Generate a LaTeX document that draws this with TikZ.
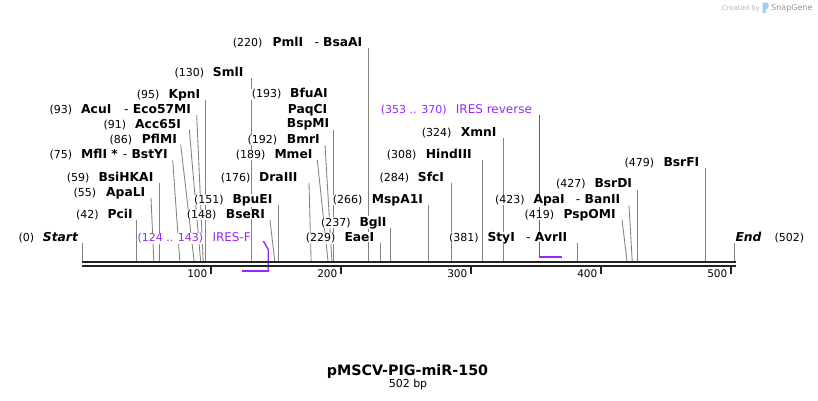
\documentclass[tikz,border=0pt]{standalone}
\usepackage{fontspec}
\setmainfont{DejaVu Sans}
\definecolor{ires}{RGB}{150,40,245}
\definecolor{barc}{RGB}{34,34,34}
\definecolor{cutc}{RGB}{130,130,130}
\definecolor{sgblue}{RGB}{160,205,240}
\newcommand\cutv[3]{%
  \coordinate (t#1) at ({82.3+1.3*#3},#2);
  \coordinate (s#1) at ({82.3+1.3*#3},261);
  \draw[cutl] (t#1) -- (s#1);}
\newcommand\cuts[4]{%
  \coordinate (t#1) at (#2,#3);
  \coordinate (s#1) at ({82.3+1.3*#4},261);
  \draw[cutl] (t#1) -- (s#1);}
\newcommand\lab[6]{%
  \node[num] (n#1) at (#2-0.5,#6) {#3};
  \node[nm] (m#1) at (#4-0.5,#6) {#5};}
\newcommand\labb[3]{%
  \node[nm] (m#1b) at (#2-0.5,#3) {{\mdseries -} #1};}
\begin{document}
\begin{tikzpicture}[x=1pt,y=-1pt,
  num/.style={font=\fontsize{11}{13}\selectfont, anchor=base west, inner sep=0.5pt, fill=white},
  nm/.style={font=\fontsize{12.3}{14}\selectfont\bfseries, anchor=base west, inner sep=0.5pt, fill=white},
  fnum/.style={num, text=ires},
  fname/.style={font=\fontsize{12}{14}\selectfont, anchor=base west, inner sep=0.5pt, fill=white, text=ires},
  cutl/.style={draw=cutc, line width=0.85pt},
  featv/.style={draw=ires, line width=1.4pt},
  feath/.style={draw=ires, line width=2pt},
  tick/.style={draw=barc, line width=2pt},
  ticklab/.style={font=\fontsize{10.5}{12}\selectfont, anchor=base east, inner sep=0pt}]
\useasboundingbox (0,0) rectangle (818,400);
\fill[white] (0,0) rectangle (818,400);

% ---- cut-site lines ----
\cutv{PmlI}{48}{220}
\cutv{SmlI}{78}{130}
\cutv{KpnI}{100}{95}
\cutv{BspMI}{129.5}{193}
\cuts{Eco}{196.7}{115}{93}
\cuts{Acc}{189.3}{129.5}{91}
\cuts{Pfl}{180.7}{144.5}{86}
\cuts{Bst}{172.7}{160}{75}
\cuts{Bmr}{325}{145}{192}
\cuts{Mme}{317.3}{160}{189}
\cutv{Xmn}{137.7}{324}
\cutv{Hind}{160}{308}
\cutv{Bsi}{182.7}{59}
\cuts{Dra}{309}{183}{176}
\cutv{Sfc}{182.7}{284}
\cutv{BsrF}{168.3}{479}
\cutv{BsrD}{189.5}{427}
\cuts{ApaL}{151}{197.7}{55}
\cutv{Bpu}{205}{151}
\cutv{Msp}{205}{266}
\cuts{Ban}{629}{205.5}{423}
\cutv{Pci}{220}{42}
\cuts{BseR}{270}{220}{148}
\cuts{PspO}{622}{219.5}{419}
\cutv{Bgl}{228}{237}
\cutv{Start}{243}{0}
\cutv{Eae}{242.5}{229}
\cutv{Avr}{243}{381}
\cutv{End}{243}{502}

% ---- features ----
\coordinate (irT) at (539.5,115);
\coordinate (irB) at (539.5,257.3);
\coordinate (irE) at (562,257.3);
\draw[featv] (irT) -- (irB);
\draw[feath] ([xshift=-0.7pt]irB) -- (irE);
\coordinate (ifS) at (242,270.7);
\coordinate (ifE) at (268.2,270.7);
\coordinate (ifK) at (268.2,249.3);
\coordinate (ifT) at (263.3,241);
\draw[feath] (ifS) -- ([xshift=0.7pt]ifE);
\draw[featv] (ifE) -- (ifK) -- (ifT);

% ---- sequence bar ----
\coordinate (b0) at (82,262);
\coordinate (b1) at (735.5,262);
\coordinate (c0) at (82,266);
\coordinate (c1) at (735.5,266);
\draw[barc, line width=2.7pt] (b0) -- (b1);
\draw[barc, line width=2.7pt] (c0) -- (c1);
\foreach \t/\xx in {100/211,200/341,300/471,400/601,500/731}{
  \coordinate (tk\t) at (\xx,266);
  \coordinate (tl\t) at (\xx,274);
  \draw[tick] (tk\t) -- (tl\t);
  \node[ticklab] (tn\t) at (\xx-3.5,277.3) {\t};
}

% ---- labels ----
\lab{PmlI}{232.7}{(220)}{272.3}{PmlI}{46.5}
\labb{BsaAI}{314.3}{46.5}
\lab{SmlI}{174.3}{(130)}{212.7}{SmlI}{76.8}
\lab{KpnI}{136.7}{(95)}{168.3}{KpnI}{98.5}
\lab{BfuAI}{251.7}{(193)}{290}{BfuAI}{97.8}
\node[nm] (mPaqCI) at (287.2,113.5) {PaqCI};
\node[nm] (mBspMI) at (286.2,127.8) {BspMI};
\lab{AcuI}{49.3}{(93)}{81}{AcuI}{113.8}
\labb{Eco57MI}{124}{113.8}
\lab{Acc}{103.3}{(91)}{135}{Acc65I}{128.8}
\lab{Pfl}{109.3}{(86)}{141.7}{PflMI}{143.5}
\lab{Mfl}{49.3}{(75)}{81}{MflI *}{158.5}
\labb{BstYI}{122.7}{158.5}
\lab{Bmr}{247.3}{(192)}{286.7}{BmrI}{143.5}
\lab{Mme}{235.7}{(189)}{274.3}{MmeI}{158.5}
\node[fnum] (nIRr) at (380.2,113.5) {(353 .. 370)};
\node[fname] (mIRr) at (455.2,113.5) {IRES reverse};
\lab{Xmn}{421.7}{(324)}{460.7}{XmnI}{136.2}
\lab{Hind}{386.7}{(308)}{425.7}{HindIII}{158.5}
\lab{Bsi}{66.7}{(59)}{98.3}{BsiHKAI}{181.2}
\lab{Dra}{220.7}{(176)}{259}{DraIII}{181.5}
\lab{Sfc}{379.3}{(284)}{417.7}{SfcI}{181.2}
\lab{BsrF}{624.3}{(479)}{663.3}{BsrFI}{166.8}
\lab{BsrD}{556}{(427)}{594.3}{BsrDI}{187.8}
\lab{ApaL}{73.3}{(55)}{106}{ApaLI}{196.2}
\lab{Bpu}{194}{(151)}{232.3}{BpuEI}{203.5}
\lab{Msp}{332.7}{(266)}{371.7}{MspA1I}{203.5}
\lab{Apa}{495}{(423)}{533.3}{ApaI}{203.5}
\labb{BanII}{575.7}{203.5}
\lab{Pci}{76}{(42)}{107.3}{PciI}{218.5}
\lab{BseR}{186.7}{(148)}{225.7}{BseRI}{218.5}
\lab{PspO}{524.3}{(419)}{563.3}{PspOMI}{218.5}
\lab{Bgl}{321}{(237)}{359.3}{BglI}{226.2}
\lab{Start}{18.3}{(0)}{42.7}{\itshape Start}{241.8}
\node[fnum] (nIRf) at (136.8,241.8) {(124 .. 143)};
\node[fname] (mIRf) at (211.8,241.8) {IRES-F};
\lab{Eae}{305.7}{(229)}{344.3}{EaeI}{241.8}
\lab{Sty}{449}{(381)}{487.3}{StyI}{241.2}
\labb{AvrII}{526}{241.2}
\node[nm] (mEnd) at (734.8,241.2) {\itshape End};
\node[num] (nEnd) at (773.8,241.2) {(502)};

% ---- title ----
\node[font=\fontsize{14.3}{16}\selectfont\bfseries, anchor=base, inner sep=0pt] (title) at (407.5,375) {pMSCV-PIG-miR-150};
\node[font=\fontsize{11}{13}\selectfont, anchor=base, inner sep=0pt] (bp) at (408,387.5) {502 bp};

% ---- credit ----
\node[font=\fontsize{6.9}{8}\selectfont, text=black!28, anchor=base east, inner sep=0pt] (cr) at (760,10) {Created by};
\fill[sgblue] (762.5,2.5) -- (766.5,2.5) .. controls (769.5,2.5) and (769.5,9) .. (766.5,9) -- (765.5,9) -- (765.5,13) -- (762.5,13) -- cycle;
\node[font=\fontsize{8}{9}\selectfont, text=black!42, anchor=base west, inner sep=0pt] (sg) at (771,10.5) {SnapGene};
\end{tikzpicture}
\end{document}
